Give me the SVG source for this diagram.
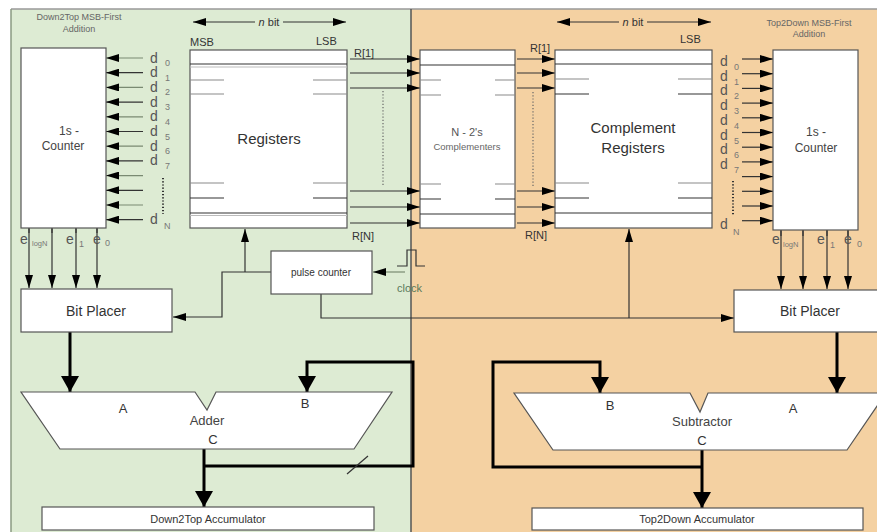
<svg xmlns="http://www.w3.org/2000/svg" width="877" height="532" viewBox="0 0 877 532">
<style>
text{font-family:"Liberation Sans",Arial,sans-serif;fill:#3a3a3a}
.box{fill:#fff;stroke:#555;stroke-width:1.2}
.ln{fill:none;stroke:#333;stroke-width:1.2}
.lg{fill:none;stroke:#7a8a72;stroke-width:1.2}
.gr{stroke:#8a8a8a;stroke-width:1.2}
.dk{stroke:#333;stroke-width:1.2}
.thick{fill:none;stroke:#000;stroke-width:3}
.dot{stroke:#666;stroke-width:1.2;stroke-dasharray:1.2,2}
.d{font-size:14px;fill:#555}
.sub{font-size:9px;fill:#777}
.mid{text-anchor:middle}
</style>
<defs>
<marker id="b" markerUnits="userSpaceOnUse" viewBox="0 0 13 8" refX="13" refY="4" markerWidth="13" markerHeight="8" orient="auto"><path d="M0,0L13,4L0,8z" fill="#000"/></marker>
<marker id="big" markerUnits="userSpaceOnUse" viewBox="0 0 16 18" refX="16" refY="9" markerWidth="16" markerHeight="18" orient="auto"><path d="M0,0L16,9L0,18z" fill="#000"/></marker>
</defs>
<rect width="877" height="532" fill="#fff"/>
<rect x="11" y="9" width="400" height="523" fill="#DDEBD3"/>
<rect x="411" y="9" width="466" height="523" fill="#F4D1A2"/>
<line x1="11" y1="9" x2="877" y2="9" stroke="#999" stroke-width="1.5"/>
<line x1="11" y1="9" x2="11" y2="532" stroke="#8a9a82" stroke-width="1.5"/>
<line x1="411" y1="9" x2="411" y2="532" stroke="#555" stroke-width="1.5"/>

<text x="79" y="20" class="mid" style="font-size:9px;fill:#666">Down2Top MSB-First</text>
<text x="79" y="32" class="mid" style="font-size:9px;fill:#666">Addition</text>
<text x="809" y="26" class="mid" style="font-size:9px;fill:#666">Top2Down MSB-First</text>
<text x="809" y="37" class="mid" style="font-size:9px;fill:#666">Addition</text>

<g id="connectors">
<path class="ln" d="M255,22H193" marker-end="url(#b)"/>
<path class="ln" d="M283,22H346" marker-end="url(#b)"/>
<path class="ln" d="M619,22H557" marker-end="url(#b)"/>
<path class="ln" d="M647,22H711" marker-end="url(#b)"/>
<path class="lg" d="M143,58H106" marker-end="url(#b)"/>
<path class="ln" d="M143,72.7H106" marker-end="url(#b)"/>
<path class="lg" d="M143,87.4H106" marker-end="url(#b)"/>
<path class="ln" d="M143,102.1H106" marker-end="url(#b)"/>
<path class="lg" d="M143,116.8H106" marker-end="url(#b)"/>
<path class="ln" d="M143,131.5H106" marker-end="url(#b)"/>
<path class="lg" d="M143,146.2H106" marker-end="url(#b)"/>
<path class="ln" d="M143,160.9H106" marker-end="url(#b)"/>
<path class="lg" d="M143,175.6H106" marker-end="url(#b)"/>
<path class="ln" d="M143,190.3H106" marker-end="url(#b)"/>
<path class="lg" d="M143,205H106" marker-end="url(#b)"/>
<path class="ln" d="M143,219.7H106" marker-end="url(#b)"/>
<line x1="163" y1="178" x2="163" y2="214" class="dot" style="stroke:#333;stroke-width:2"/>
<path class="ln" d="M742,59H773" marker-end="url(#b)"/>
<path class="ln" d="M742,73.7H773" marker-end="url(#b)"/>
<path class="ln" d="M742,88.4H773" marker-end="url(#b)"/>
<path class="ln" d="M742,103.1H773" marker-end="url(#b)"/>
<path class="ln" d="M742,117.8H773" marker-end="url(#b)"/>
<path class="ln" d="M742,132.5H773" marker-end="url(#b)"/>
<path class="ln" d="M742,147.2H773" marker-end="url(#b)"/>
<path class="ln" d="M742,161.9H773" marker-end="url(#b)"/>
<path class="ln" d="M742,176.6H773" marker-end="url(#b)"/>
<path class="ln" d="M742,191.3H773" marker-end="url(#b)"/>
<path class="ln" d="M742,206H773" marker-end="url(#b)"/>
<path class="ln" d="M742,220.7H773" marker-end="url(#b)"/>
<line x1="733" y1="181" x2="733" y2="216" class="dot" style="stroke:#333;stroke-width:2"/>
<path class="ln" d="M350,59H420" marker-end="url(#b)"/>
<path class="ln" d="M350,73H420" marker-end="url(#b)"/>
<path class="ln" d="M350,88H420" marker-end="url(#b)"/>
<path class="ln" d="M350,191H420" marker-end="url(#b)"/>
<path class="ln" d="M350,207H420" marker-end="url(#b)"/>
<path class="ln" d="M350,223H420" marker-end="url(#b)"/>
<line x1="383" y1="91" x2="383" y2="186" class="dot"/>
<path class="ln" d="M517,59H555" marker-end="url(#b)"/>
<path class="ln" d="M517,73H555" marker-end="url(#b)"/>
<path class="ln" d="M517,88H555" marker-end="url(#b)"/>
<path class="ln" d="M517,191H555" marker-end="url(#b)"/>
<path class="ln" d="M517,207H555" marker-end="url(#b)"/>
<path class="ln" d="M517,223H555" marker-end="url(#b)"/>
<line x1="533" y1="92" x2="533" y2="186" class="dot"/>
<path class="ln" d="M29,229V288" marker-end="url(#b)"/>
<path class="ln" d="M52,229V288" marker-end="url(#b)"/>
<path class="ln" d="M76,229V288" marker-end="url(#b)"/>
<path class="ln" d="M97,229V288" marker-end="url(#b)"/>
<path class="ln" d="M781,231V289" marker-end="url(#b)"/>
<path class="ln" d="M803,231V289" marker-end="url(#b)"/>
<path class="ln" d="M827,231V289" marker-end="url(#b)"/>
<path class="ln" d="M848,231V289" marker-end="url(#b)"/>
<path class="ln" d="M397,266H407V250H416V266H425"/>
<path class="lg" d="M405,272H373" marker-end="url(#b)"/>
<path class="ln" d="M271,272H222V317H173" marker-end="url(#b)"/>
<path class="ln" d="M245,272V229" marker-end="url(#b)"/>
<path class="ln" d="M321,294V318H734" marker-end="url(#b)"/>
<path class="ln" d="M629,318V229" marker-end="url(#b)"/>
<path class="thick" d="M70,332V392" marker-end="url(#big)"/>
<path class="thick" d="M204,449V507" marker-end="url(#big)"/>
<path class="thick" d="M204,466H413V362H307V392" marker-end="url(#big)"/>
<line x1="347" y1="474" x2="368" y2="456" stroke="#333" stroke-width="1.2"/>
<path class="thick" d="M837,332V393" marker-end="url(#big)"/>
<path class="thick" d="M702,450V508" marker-end="url(#big)"/>
<path class="thick" d="M702,467H493V362H600V393" marker-end="url(#big)"/>
</g>

<g id="counter-left">
<rect class="box" x="21" y="48" width="85" height="180"/>
<text x="69" y="135" class="mid" style="font-size:12px;fill:#444">1s -</text>
<text x="63" y="150" class="mid" style="font-size:12px;fill:#444">Counter</text>
<line x1="29" y1="228" x2="29" y2="233" class="dk"/>
<line x1="52" y1="228" x2="52" y2="233" class="dk"/>
<line x1="76" y1="228" x2="76" y2="233" class="dk"/>
<line x1="97" y1="228" x2="97" y2="233" class="dk"/>
</g>
<g id="d-labels-left">
<text class="d" x="150" y="62.5">d</text><text class="sub" x="165" y="66">0</text>
<text class="d" x="150" y="77.2">d</text><text class="sub" x="165" y="80.7">1</text>
<text class="d" x="150" y="91.9">d</text><text class="sub" x="165" y="95.4">2</text>
<text class="d" x="150" y="106.6">d</text><text class="sub" x="165" y="110.1">3</text>
<text class="d" x="150" y="121.3">d</text><text class="sub" x="165" y="124.8">4</text>
<text class="d" x="150" y="136">d</text><text class="sub" x="165" y="139.5">5</text>
<text class="d" x="150" y="150.7">d</text><text class="sub" x="165" y="154.2">6</text>
<text class="d" x="150" y="165.4">d</text><text class="sub" x="165" y="168.9">7</text>
<text class="d" x="150" y="224.2">d</text><text class="sub" x="164" y="229">N</text>
</g>
<g id="e-labels-left">
<text class="d" x="20" y="244">e</text><text class="sub" x="32" y="246" style="font-size:7.5px">logN</text>
<text class="d" x="66" y="244">e</text><text class="sub" x="79" y="247">1</text>
<text class="d" x="93" y="244">e</text><text class="sub" x="105" y="246">0</text>
</g>

<g id="registers">
<rect class="box" x="190" y="50" width="157" height="178"/>
<line x1="190" y1="64" x2="347" y2="64" class="dk"/>
<line x1="190" y1="67" x2="347" y2="67" class="gr" style="stroke:#bbb"/>
<path class="gr" d="M190,80H224M313,80H347M190,94H224M313,94H347M190,183H224M313,183H347"/>
<path class="dk" d="M190,198H224M313,198H347"/>
<line x1="190" y1="213" x2="347" y2="213" class="dk"/>
<line x1="190" y1="215.5" x2="347" y2="215.5" class="gr" style="stroke:#bbb"/>
<text x="269" y="144" class="mid" style="font-size:15px;fill:#333">Registers</text>
<text x="190" y="46" style="font-size:11px;fill:#333">MSB</text>
<text x="316" y="45" style="font-size:11px;fill:#333">LSB</text>
<text x="269" y="26" class="mid" style="font-size:11px;fill:#333"><tspan font-style="italic">n</tspan> bit</text>
<text x="354" y="57" style="font-size:11px;fill:#333">R[1]</text>
<text x="352" y="240" style="font-size:11px;fill:#333">R[N]</text>
</g>

<g id="complementers">
<rect class="box" x="420" y="50" width="95" height="178"/>
<line x1="420" y1="65" x2="515" y2="65" class="dk"/>
<path class="gr" d="M420,80H441M495,80H515M420,95H441M495,95H515M420,184H441M495,184H515"/>
<path class="dk" d="M420,199H441M495,199H515"/>
<line x1="420" y1="214" x2="515" y2="214" class="dk"/>
<text x="467" y="136" class="mid" style="font-size:11px;fill:#555">N - 2's</text>
<text x="467" y="150" class="mid" style="font-size:9.5px;fill:#666">Complementers</text>
<text x="530" y="52" style="font-size:11px;fill:#333">R[1]</text>
<text x="525" y="239" style="font-size:11px;fill:#333">R[N]</text>
</g>

<g id="complement-registers">
<rect class="box" x="555" y="50" width="157" height="178"/>
<line x1="555" y1="64" x2="712" y2="64" class="dk"/>
<path class="gr" d="M555,79H589M678,79H712M555,183H589M678,183H712"/>
<path class="dk" d="M555,94H589M678,94H712M555,198H589M678,198H712"/>
<line x1="555" y1="213" x2="712" y2="213" class="dk"/>
<text x="633" y="133" class="mid" style="font-size:15px;fill:#333">Complement</text>
<text x="633" y="153" class="mid" style="font-size:15px;fill:#333">Registers</text>
<text x="633" y="26" class="mid" style="font-size:11px;fill:#333"><tspan font-style="italic">n</tspan> bit</text>
<text x="680" y="43" style="font-size:11px;fill:#333">LSB</text>
</g>

<g id="counter-right">
<rect class="box" x="773" y="50" width="85" height="180"/>
<text x="816" y="136" class="mid" style="font-size:12px;fill:#444">1s -</text>
<text x="816" y="152" class="mid" style="font-size:12px;fill:#444">Counter</text>
<line x1="781" y1="230" x2="781" y2="236" class="dk"/>
<line x1="803" y1="230" x2="803" y2="236" class="dk"/>
<line x1="827" y1="230" x2="827" y2="236" class="dk"/>
<line x1="848" y1="230" x2="848" y2="236" class="dk"/>
</g>
<g id="d-labels-right">
<text class="d" x="720" y="66">d</text><text class="sub" x="734" y="70">0</text>
<text class="d" x="720" y="80.7">d</text><text class="sub" x="734" y="84.7">1</text>
<text class="d" x="720" y="95.4">d</text><text class="sub" x="734" y="99.4">2</text>
<text class="d" x="720" y="110.1">d</text><text class="sub" x="734" y="114.1">3</text>
<text class="d" x="720" y="124.8">d</text><text class="sub" x="734" y="128.8">4</text>
<text class="d" x="720" y="139.5">d</text><text class="sub" x="734" y="143.5">5</text>
<text class="d" x="720" y="154.2">d</text><text class="sub" x="734" y="158.2">6</text>
<text class="d" x="720" y="168.9">d</text><text class="sub" x="734" y="172.9">7</text>
<text class="d" x="720" y="229">d</text><text class="sub" x="733" y="235">N</text>
</g>
<g id="e-labels-right">
<text class="d" x="772" y="244">e</text><text class="sub" x="783" y="247" style="font-size:7.5px">logN</text>
<text class="d" x="817" y="244">e</text><text class="sub" x="830" y="248">1</text>
<text class="d" x="844" y="244">e</text><text class="sub" x="857" y="247">0</text>
</g>

<g id="pulse-counter">
<rect class="box" x="271" y="251" width="101" height="43"/>
<text x="321" y="276" class="mid" style="font-size:10px;fill:#333">pulse counter</text>
</g>
<g id="clock">
<text x="397" y="292" style="font-size:11px;fill:#5a7a5a">clock</text>
</g>

<g id="bitplacer-left">
<rect class="box" x="21" y="289" width="151" height="43"/>
<text x="96" y="316" class="mid" style="font-size:14px;fill:#333">Bit Placer</text>
</g>
<g id="bitplacer-right">
<rect class="box" x="734" y="290" width="150" height="42"/>
<text x="810" y="316" class="mid" style="font-size:14px;fill:#333">Bit Placer</text>
</g>

<g id="adder">
<polygon class="box" points="21,392 195,392 207,410 216,392 392,392 354,449 60,449"/>
<text x="123" y="413" class="mid" style="font-size:13px;fill:#333">A</text>
<text x="305" y="408" class="mid" style="font-size:13px;fill:#333">B</text>
<text x="207" y="425" class="mid" style="font-size:13px;fill:#444">Adder</text>
<text x="213" y="444" class="mid" style="font-size:13px;fill:#333">C</text>
</g>
<g id="subtractor">
<polygon class="box" points="514,393 690,393 700,412 708,393 886,393 847,450 553,450"/>
<text x="610" y="410" class="mid" style="font-size:13px;fill:#333">B</text>
<text x="793" y="413" class="mid" style="font-size:13px;fill:#333">A</text>
<text x="702" y="426" class="mid" style="font-size:13px;fill:#444">Subtractor</text>
<text x="702" y="445" class="mid" style="font-size:13px;fill:#333">C</text>
</g>

<g id="acc-left">
<rect class="box" x="42" y="507" width="332" height="23"/>
<text x="208" y="523" class="mid" style="font-size:11px;fill:#333">Down2Top Accumulator</text>
</g>
<g id="acc-right">
<rect class="box" x="532" y="508" width="331" height="22"/>
<text x="697" y="523" class="mid" style="font-size:11px;fill:#333">Top2Down Accumulator</text>
</g>
</svg>
